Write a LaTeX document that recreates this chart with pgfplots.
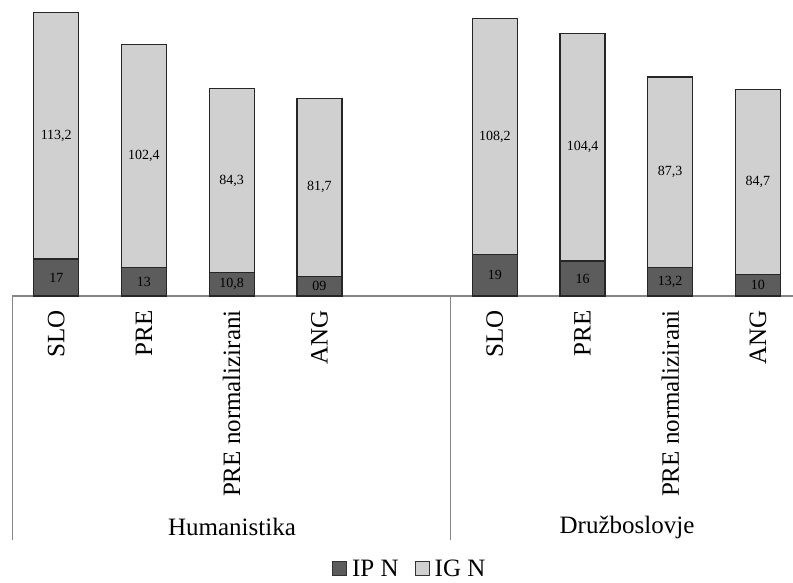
\documentclass[border=0pt]{standalone}
\usepackage{fontspec}
\setmainfont{Liberation Serif}
\usepackage{pgfplots}
\usepackage{pgfplotstable}
\pgfplotsset{compat=1.18}
\definecolor{darkbar}{RGB}{92,92,92}
\definecolor{lightbar}{RGB}{208,208,208}
\definecolor{axgray}{RGB}{134,134,134}

\pgfplotstableread{
x ip ig iplab iglab
0 17 113.2 17 113,2
1 13 102.4 13 102,4
2 10.8 84.3 10,8 84,3
3 9 81.7 09 81,7
5 19 108.2 19 108,2
6 16 104.4 16 104,4
7 13.2 87.3 13,2 87,3
8 10 84.7 10 84,7
}\datatable

\begin{document}
\begin{tikzpicture}
\useasboundingbox (0,0) rectangle (793bp,583bp);
\begin{axis}[
  at={(12.4bp,287bp)}, anchor=south west,
  scale only axis, width=780.6bp, height=296bp,
  xmin=-0.5, xmax=8.4, ymin=0, ymax=135.8,
  ybar stacked, bar width=45bp,
  axis x line*=bottom, axis y line=none,
  x axis line style={-, draw=axgray, line width=1.2bp},
  major tick length=0pt,
  xtick={0,1,2,3,5,6,7,8},
  xticklabels={SLO,PRE,PRE normalizirani,ANG,SLO,PRE,PRE normalizirani,ANG},
  xticklabel style={rotate=90, anchor=east, inner sep=0pt, font=\fontsize{25bp}{28bp}\selectfont},
  xticklabel shift=14bp,
  point meta=explicit symbolic,
  nodes near coords,
  nodes near coords style={anchor=center, font=\fontsize{14bp}{16bp}\selectfont, text=black},
  every axis plot/.append style={draw=black!85, line width=1.3bp},
  legend style={at={(0.509,-0.922)}, anchor=center, draw=none, fill=none, inner sep=0pt,
    legend columns=2, font=\fontsize{25bp}{28bp}\selectfont,
    /tikz/every even column/.append style={column sep=14bp}},
  legend image code/.code={\draw[#1, line width=0.8bp, draw=black!80] (0bp,-6.5bp) rectangle (14bp,7.5bp); \path (17bp,0bp);},
  clip=false,
]
\addplot[fill=darkbar] table[x=x, y=ip, meta=iplab] {\datatable};
\addplot[fill=lightbar] table[x=x, y=ig, meta=iglab] {\datatable};
\legend{IP N, IG N}
\end{axis}
\draw[axgray, line width=1.2bp] (12.4bp,287bp) -- (12.4bp,43bp);
\draw[axgray, line width=1.2bp] (450.5bp,287bp) -- (450.5bp,43bp);
\node[font=\fontsize{25bp}{28bp}\selectfont] at (232bp,56bp) {Humanistika};
\node[font=\fontsize{25bp}{28bp}\selectfont] at (627bp,56bp) {Družboslovje};
\end{tikzpicture}
\end{document}
